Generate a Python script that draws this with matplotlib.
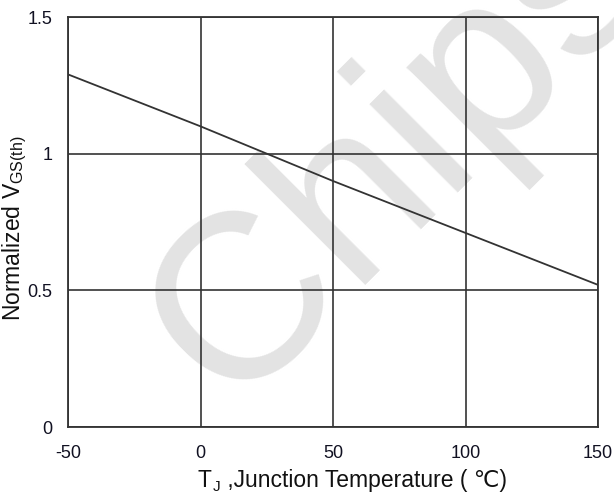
import matplotlib.pyplot as plt

plt.rcParams["font.family"] = ["Liberation Sans", "DejaVu Sans"]
plt.rcParams["mathtext.fontset"] = "custom"
plt.rcParams["mathtext.rm"] = "Liberation Sans"
plt.rcParams["axes.unicode_minus"] = False

# data
temps = [-50, 0, 50, 100, 150]
vgs_norm = [1.29, 1.10, 0.90, 0.71, 0.52]
x_ticks = [-50, 0, 50, 100, 150]
y_ticks = [0, 0.5, 1, 1.5]
y_tick_labels = ["0", "0.5", "1", "1.5"]

W, H = 614, 494
fig = plt.figure(figsize=(W / 100, H / 100), dpi=100)
ax = fig.add_axes([68 / W, 1 - 427 / H, 530 / W, 410 / H])

# watermark behind the chart
fig.text(230 / W, 1 - 408 / H, "Chips", rotation=45, fontsize=170,
         color="#e3e3e3", ha="left", va="baseline", rotation_mode="anchor",
         zorder=-1)
ax.set_facecolor("none")

ax.plot(temps, vgs_norm, color="#333333", lw=1.3, zorder=3)

ax.set_xlim(-50, 150)
ax.set_ylim(0, 1.5)
ax.set_xticks(x_ticks)
ax.set_yticks(y_ticks)
ax.set_yticklabels(y_tick_labels)
ax.grid(True, color="#333333", lw=1.2)
for s in ax.spines.values():
    s.set_color("#333333")
    s.set_linewidth(1.3)
ax.tick_params(length=0, labelsize=13, colors="#111122")
ax.tick_params(axis="x", pad=13)
ax.tick_params(axis="y", pad=11)

# x label built from pieces so that the degree sign can fall back to DejaVu
lab_c = "#111111"
t_main = fig.text(198 / W, 2 / H, "T", fontsize=16.5, ha="left", va="bottom",
                  color=lab_c)
t_sub = ax.annotate("J", xy=(1, 0), xycoords=t_main, xytext=(0.8, -1.5),
                    textcoords="offset points", fontsize=11, ha="left",
                    va="bottom", color=lab_c, annotation_clip=False)
ax.annotate(" ,Junction Temperature ( \u2103)", xy=(1, 0),
            xycoords=(t_sub, t_main), ha="left", va="bottom",
            fontsize=16.5, color=lab_c, annotation_clip=False)

fig.text(15 / W, 1 - 228 / H, "Normalized V$_{\\mathrm{GS(th)}}$",
         fontsize=16.5, rotation=90, ha="center", va="center", color=lab_c)

fig.savefig("out.png", dpi=100)
